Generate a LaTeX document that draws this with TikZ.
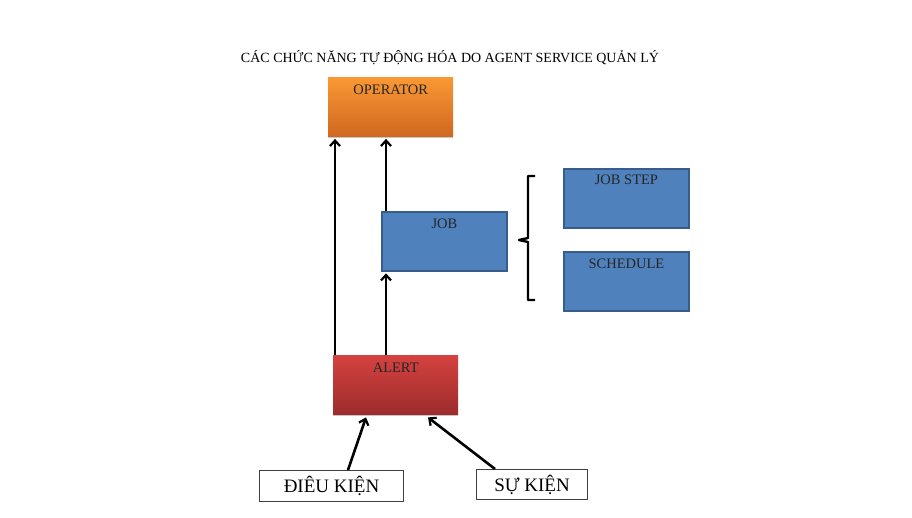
\documentclass[tikz,border=0pt]{standalone}
\usepackage{fontspec}
\setmainfont{Liberation Serif}
\usetikzlibrary{arrows.meta,calc,shadows}
\definecolor{opTop}{RGB}{250,152,52}
\definecolor{opBot}{RGB}{208,104,32}
\definecolor{alTop}{RGB}{212,66,64}
\definecolor{alBot}{RGB}{158,44,44}
\definecolor{blueFill}{RGB}{79,129,189}
\definecolor{blueLine}{RGB}{56,93,138}
\tikzset{
  box/.style={minimum width=125pt, minimum height=59pt, inner sep=0pt, anchor=north west},
  shade/.style={general shadow={fill=gray!45, shadow yshift=-2pt}},
  opbox/.style={box, shade, top color=opTop, bottom color=opBot, draw=none},
  albox/.style={box, shade, top color=alTop, bottom color=alBot, draw=none},
  bluebox/.style={box, fill=blueFill, draw=blueLine, line width=1.8pt},
  whitebox/.style={inner sep=0pt, anchor=north west, draw=black!75, line width=1pt, fill=white},
  toplabel/.style={anchor=north, font=\fontsize{14.5}{16}\selectfont, text=black!85},
  arr/.style={line width=2.6pt, -{Straight Barb[length=5.5pt,width=10pt,line width=2.2pt]}},
}
\begin{document}
\begin{tikzpicture}[x=1pt,y=-1pt]
\useasboundingbox (0,0) rectangle (912,517);
\node[font=\fontsize{14}{16}\selectfont] (title) at (450,58) {CÁC CHỨC NĂNG TỰ ĐỘNG HÓA DO AGENT SERVICE QUẢN LÝ};
\node[opbox] (op) at (328,77) {};
\node[toplabel] (optxt) at ($(op.north)+(0,4)$) {OPERATOR};
\node[bluebox] (job) at (381,211) {};
\node[toplabel] (jobtxt) at ($(job.north)+(0,4)$) {JOB};
\node[bluebox] (step) at (563,168) {};
\node[toplabel] (steptxt) at ($(step.north)+(0,3)$) {JOB STEP};
\node[bluebox] (sched) at (563,251) {};
\node[toplabel] (schedtxt) at ($(sched.north)+(0,4)$) {SCHEDULE};
\node[albox] (alert) at (333,355) {};
\node[toplabel] (alerttxt) at ($(alert.north)+(0,4)$) {ALERT};
\node[whitebox, minimum width=144pt, minimum height=31pt, font=\fontsize{19}{21}\selectfont] (cond) at (259,470) {ĐIÊU KIỆN};
\node[whitebox, minimum width=111pt, minimum height=30pt, font=\fontsize{19}{21}\selectfont] (event) at (476,469) {SỰ KIỆN};
% arrows
\draw[arr] ($(alert.north west)+(2,0)$) -- ($(op.south west)+(7,2.5)$);
\draw[arr] ($(job.north west)+(5,0)$) -- ($(op.south west)+(58,2.5)$);
\draw[arr] ($(alert.north west)+(53,0)$) -- ($(job.south west)+(5,1.5)$);
\draw[arr] ($(cond.north west)+(89,0)$) -- ($(alert.south west)+(33,3)$);
\draw[arr] ($(event.north west)+(19,0)$) -- ($(alert.south west)+(95,3)$);
% brace
\draw[line width=2.4pt, line join=round]
  (535,176) -- (528,176) -- (528,238) -- (519,240) -- (528,242) -- (528,300) -- (535,300);
\end{tikzpicture}
\end{document}
